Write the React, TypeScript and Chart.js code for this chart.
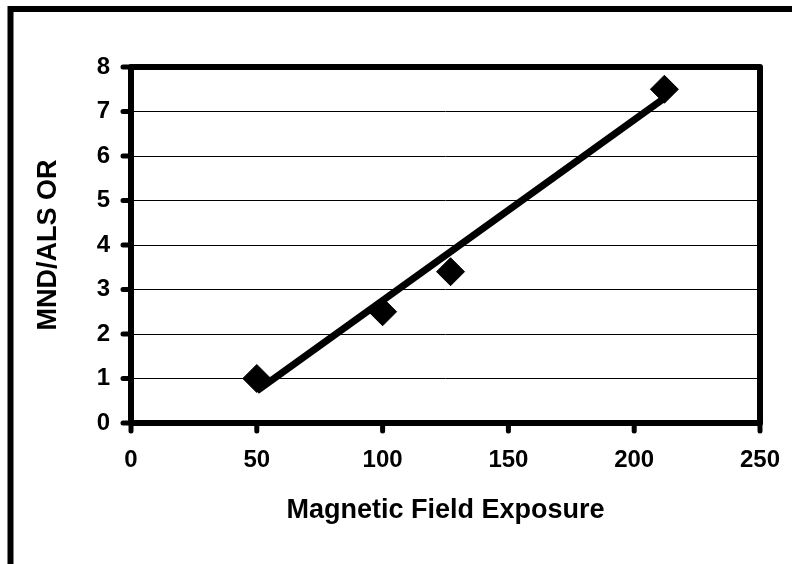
import React, { useEffect, useRef } from "react";
import { Chart, registerables } from "chart.js";

Chart.register(...registerables);

const xValues = [50, 100, 127, 212];
const yValues = [1, 2.5, 3.4, 7.5];
const trendX = [50, 212];
const trendY = [0.72, 7.3];
const xTickValues = [0, 50, 100, 150, 200, 250];
const yTickValues = [0, 1, 2, 3, 4, 5, 6, 7, 8];
const xTitle = "Magnetic Field Exposure";
const yTitle = "MND/ALS OR";

const FONT = "'Liberation Sans', Arial, sans-serif";

const framePlugin = {
  id: "framePlugin",
  afterDraw(chart: any) {
    const { ctx, chartArea, scales } = chart;
    const { left, top, right, bottom } = chartArea;
    const xs = scales.x;
    const ys = scales.y;
    ctx.save();
    ctx.strokeStyle = "#000";
    // outer page frame
    ctx.lineWidth = 6;
    ctx.lineCap = "butt";
    ctx.lineJoin = "miter";
    ctx.beginPath();
    ctx.moveTo(10.5, 700);
    ctx.lineTo(10.5, 9);
    ctx.lineTo(900, 9);
    ctx.stroke();
    // plot frame
    ctx.lineJoin = "round";
    ctx.lineWidth = 6;
    ctx.strokeRect(left, top, right - left, bottom - top);
    // tick stubs
    ctx.lineCap = "round";
    ctx.lineWidth = 5;
    ctx.beginPath();
    for (const v of yTickValues) {
      const py = ys.getPixelForValue(v);
      ctx.moveTo(left - 8, py);
      ctx.lineTo(left, py);
    }
    for (const v of xTickValues) {
      const px = xs.getPixelForValue(v);
      ctx.moveTo(px, bottom);
      ctx.lineTo(px, bottom + 8);
    }
    ctx.stroke();
    ctx.restore();
  },
};

export default function App() {
  const ref = useRef<HTMLCanvasElement | null>(null);
  useEffect(() => {
    if (!ref.current) return;
    const chart = new Chart(ref.current, {
      type: "scatter",
      data: {
        datasets: [
          {
            type: "line",
            data: trendX.map((x, i) => ({ x, y: trendY[i] })),
            borderColor: "#000",
            borderWidth: 7,
            pointRadius: 0,
            fill: false,
            order: 1,
          } as any,
          {
            data: xValues.map((x, i) => ({ x, y: yValues[i] })),
            pointStyle: "rectRot",
            pointRadius: 14,
            pointHoverRadius: 14,
            backgroundColor: "#000",
            borderColor: "#000",
            borderWidth: 1,
            showLine: false,
            order: 2,
          },
        ],
      },
      options: {
        responsive: false,
        animation: false,
        layout: { padding: { top: 67, right: 32, left: 0, bottom: 0 } },
        plugins: {
          legend: { display: false },
          tooltip: { enabled: false },
        },
        scales: {
          x: {
            type: "linear",
            min: 0,
            max: 250,
            afterBuildTicks: (s: any) => {
              s.ticks = xTickValues.map((v) => ({ value: v }));
            },
            afterFit: (s: any) => {
              s.height = 141;
              s.paddingLeft = 0;
              s.paddingRight = 0;
            },
            grid: { display: false, drawTicks: false },
            border: { display: false },
            ticks: {
              color: "#000",
              padding: 23,
              font: { family: FONT, size: 24, weight: "bold" },
              maxRotation: 0,
            },
            title: {
              display: true,
              text: xTitle,
              color: "#000",
              font: { family: FONT, size: 27, weight: "bold", lineHeight: 1.2 },
              padding: { top: 0, bottom: 37 },
            },
          },
          y: {
            type: "linear",
            min: 0,
            max: 8,
            afterBuildTicks: (s: any) => {
              s.ticks = yTickValues.map((v) => ({ value: v }));
            },
            afterFit: (s: any) => {
              s.width = 131;
            },
            grid: { color: "#000", lineWidth: 1, drawTicks: false },
            border: { display: false },
            ticks: {
              color: "#000",
              padding: 21,
              font: { family: FONT, size: 24, weight: "bold" },
            },
            title: {
              display: true,
              text: yTitle,
              color: "#000",
              font: { family: FONT, size: 27, weight: "bold", lineHeight: 1.2 },
              padding: { top: 32, bottom: 0 },
            },
          },
        },
      },
      plugins: [framePlugin],
    });
    return () => chart.destroy();
  }, []);
  return (
    <div style={{ position: "absolute", left: 0, top: 0, width: 792, height: 564, background: "#fff" }}>
      <canvas ref={ref} width={792} height={564} style={{ display: "block" }} />
    </div>
  );
}
